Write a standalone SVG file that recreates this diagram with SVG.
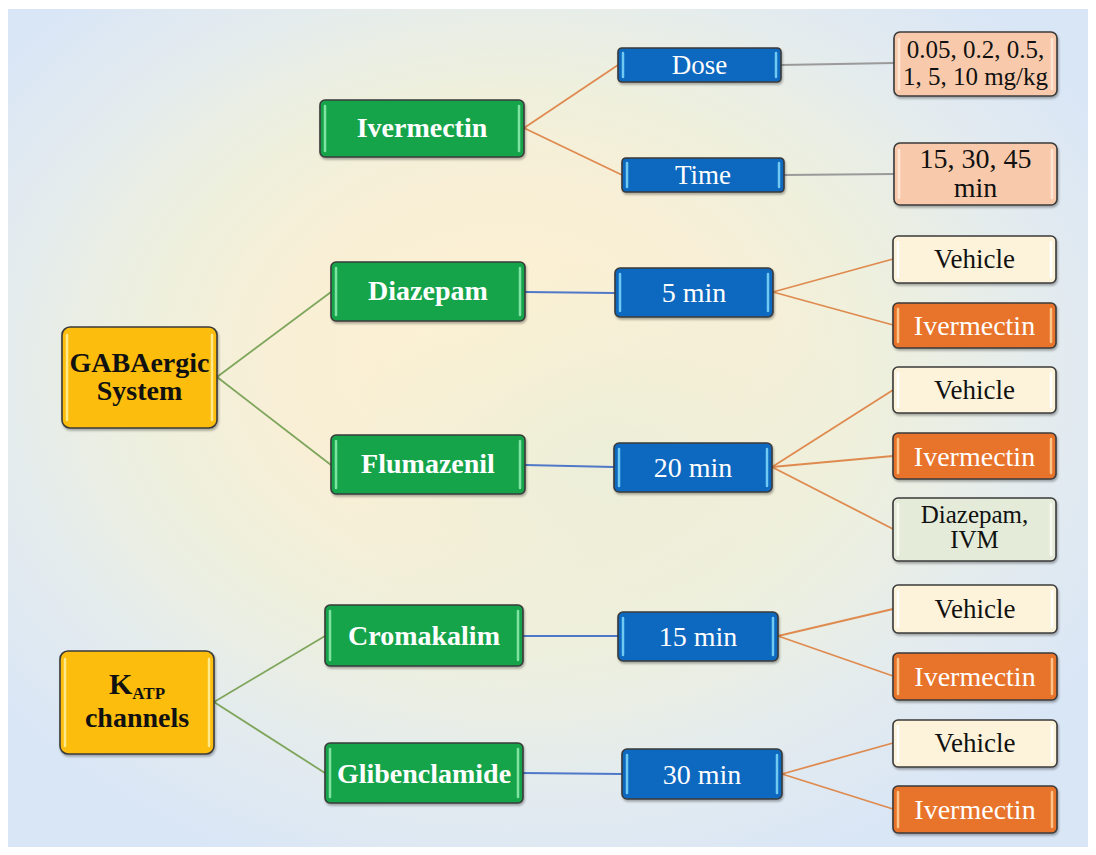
<svg xmlns="http://www.w3.org/2000/svg" width="1096" height="855" viewBox="0 0 1096 855">
<defs>
<radialGradient id="bg" cx="0.48" cy="0.45" r="0.62" fx="0.45" fy="0.4">
<stop offset="0" stop-color="#fdf1d2"/>
<stop offset="0.35" stop-color="#f8efd6"/>
<stop offset="0.55" stop-color="#eef0dd"/>
<stop offset="0.8" stop-color="#e3ebef"/>
<stop offset="1" stop-color="#d9e6f6"/>
</radialGradient>
<radialGradient id="bg2" cx="0.55" cy="0.55" r="0.25">
<stop offset="0" stop-color="#e6eedb" stop-opacity="0.7"/>
<stop offset="1" stop-color="#e6eedb" stop-opacity="0"/>
</radialGradient>
<filter id="sh" x="-10%" y="-10%" width="130%" height="140%">
<feDropShadow dx="1" dy="2" stdDeviation="1.2" flood-color="#000" flood-opacity="0.3"/>
</filter>
</defs>
<style>
.box{stroke:#3a3a3a;stroke-width:1.6;filter:url(#sh)}
.g{fill:#13a44b}.b{fill:#0c67bf}.y{fill:#fcbd0f}.o{fill:#e8732b}.c{fill:#fdf3da}.p{fill:#f8caab}.lg{fill:#e4ecd9}
.bv{stroke-width:2.5;stroke-linecap:round;fill:none}
.bg{stroke:#7fe3a2}.bb{stroke:#6fc9f2}.by{stroke:#feea8a}.bo{stroke:#fbc488}.bc{stroke:#ffffff}.bp{stroke:#fde6d6}.blg{stroke:#f6faf0}
.tw{font-family:'Liberation Serif','Times New Roman',serif;fill:#ffffff;text-anchor:middle}
.tk{font-family:'Liberation Serif','Times New Roman',serif;fill:#111111;text-anchor:middle}
.bold{font-weight:bold;font-size:28px}
.reg{font-size:27px}
.sm{font-size:25px}
.cg{stroke:#7fa65c;stroke-width:1.8;fill:none}
.co{stroke:#df8a4f;stroke-width:1.8;fill:none}
.cb{stroke:#4f78c8;stroke-width:1.8;fill:none}
.cy{stroke:#9a9a9a;stroke-width:1.8;fill:none}
</style>
<rect x="0" y="0" width="1096" height="855" fill="#ffffff"/>
<rect x="8" y="9" width="1080" height="838" fill="url(#bg)"/>
<rect x="8" y="9" width="1080" height="838" fill="url(#bg2)"/>

<g id="connectors">
<line class="cg" x1="217" y1="377" x2="331" y2="292"/>
<line class="cg" x1="217" y1="377" x2="331" y2="465"/>
<line class="cg" x1="214" y1="702" x2="325" y2="636"/>
<line class="cg" x1="214" y1="702" x2="325" y2="773"/>
<line class="co" x1="524" y1="128" x2="618" y2="65"/>
<line class="co" x1="524" y1="128" x2="622" y2="175"/>
<line class="cy" x1="781" y1="65" x2="894" y2="63"/>
<line class="cy" x1="784" y1="175" x2="894" y2="174"/>
<line class="cb" x1="525" y1="292" x2="615" y2="293"/>
<line class="cb" x1="525" y1="465" x2="614" y2="467"/>
<line class="cb" x1="523" y1="636" x2="618" y2="636"/>
<line class="cb" x1="523" y1="773" x2="622" y2="774"/>
<line class="co" x1="773" y1="292" x2="893" y2="259"/>
<line class="co" x1="773" y1="292" x2="893" y2="325"/>
<line class="co" x1="772" y1="467" x2="893" y2="390"/>
<line class="co" x1="772" y1="467" x2="893" y2="456"/>
<line class="co" x1="772" y1="467" x2="893" y2="529"/>
<line class="co" x1="778" y1="636" x2="893" y2="609"/>
<line class="co" x1="778" y1="636" x2="893" y2="676"/>
<line class="co" x1="782" y1="774" x2="893" y2="743"/>
<line class="co" x1="782" y1="774" x2="893" y2="809"/>
</g>

<g id="gaba">
<rect class="box y" x="62" y="327" width="155" height="101" rx="8"/>
<path class="bv by" d="M67 335V420M212 335V420"/>
<text class="tk bold" x="139.5" y="372">GABAergic</text>
<text class="tk bold" x="139.5" y="400">System</text>
</g>
<g id="katp">
<rect class="box y" x="60" y="651" width="154" height="103" rx="8"/>
<path class="bv by" d="M65 659V746M209 659V746"/>
<text class="tk bold" x="137" y="694"><tspan font-size="30px">K</tspan><tspan font-size="17px" dy="5">ATP</tspan></text>
<text class="tk bold" x="137" y="727">channels</text>
</g>

<g id="ivermectin">
<rect class="box g" x="320" y="100" width="204" height="57" rx="5"/>
<path class="bv bg" d="M325 106V151M519 106V151"/>
<text class="tw bold" x="422" y="137">Ivermectin</text>
</g>
<g id="dose">
<rect class="box b" x="618" y="48" width="163" height="34" rx="4"/>
<path class="bv bb" d="M623 53V77M776 53V77"/>
<text class="tw reg" x="699.5" y="74">Dose</text>
</g>
<g id="time">
<rect class="box b" x="622" y="158" width="162" height="34" rx="4"/>
<path class="bv bb" d="M627 163V187M779 163V187"/>
<text class="tw reg" x="703" y="184">Time</text>
</g>
<g id="dosevals">
<rect class="box p" x="894" y="32" width="163" height="64" rx="6"/>
<path class="bv bp" d="M899 39V89M1052 39V89"/>
<text class="tk sm" x="975.5" y="58">0.05, 0.2, 0.5,</text>
<text class="tk sm" x="975.5" y="85">1, 5, 10 mg/kg</text>
</g>
<g id="timevals">
<rect class="box p" x="894" y="143" width="163" height="62" rx="6"/>
<path class="bv bp" d="M899 150V198M1052 150V198"/>
<text class="tk" font-size="28px" x="975.5" y="168">15, 30, 45</text>
<text class="tk" font-size="28px" x="975.5" y="197">min</text>
</g>

<g id="diazepam">
<rect class="box g" x="331" y="262" width="194" height="59" rx="5"/>
<path class="bv bg" d="M336 268V315M520 268V315"/>
<text class="tw bold" x="428" y="300">Diazepam</text>
</g>
<g id="flumazenil">
<rect class="box g" x="331" y="435" width="194" height="59" rx="5"/>
<path class="bv bg" d="M336 441V488M520 441V488"/>
<text class="tw bold" x="428" y="473">Flumazenil</text>
</g>
<g id="cromakalim">
<rect class="box g" x="325" y="605" width="198" height="61" rx="5"/>
<path class="bv bg" d="M330 611V660M518 611V660"/>
<text class="tw bold" x="424" y="645">Cromakalim</text>
</g>
<g id="glibenclamide">
<rect class="box g" x="325" y="743" width="198" height="60" rx="5"/>
<path class="bv bg" d="M330 749V797M518 749V797"/>
<text class="tw bold" x="424" y="783">Glibenclamide</text>
</g>

<g id="t5">
<rect class="box b" x="615" y="268" width="158" height="49" rx="5"/>
<path class="bv bb" d="M620 274V311M768 274V311"/>
<text class="tw" font-size="28px" x="694" y="302">5 min</text>
</g>
<g id="t20">
<rect class="box b" x="614" y="443" width="158" height="49" rx="5"/>
<path class="bv bb" d="M619 449V486M767 449V486"/>
<text class="tw" font-size="28px" x="693" y="477">20 min</text>
</g>
<g id="t15">
<rect class="box b" x="618" y="612" width="160" height="49" rx="5"/>
<path class="bv bb" d="M623 618V655M773 618V655"/>
<text class="tw" font-size="28px" x="698" y="646">15 min</text>
</g>
<g id="t30">
<rect class="box b" x="622" y="749" width="160" height="50" rx="5"/>
<path class="bv bb" d="M627 755V793M777 755V793"/>
<text class="tw" font-size="28px" x="702" y="784">30 min</text>
</g>

<g id="veh1">
<rect class="box c" x="893" y="236" width="163" height="47" rx="5"/>
<path class="bv bc" d="M898 242V277M1051 242V277"/>
<text class="tk reg" x="974.5" y="268">Vehicle</text>
</g>
<g id="ivm1">
<rect class="box o" x="893" y="303" width="163" height="45" rx="5"/>
<path class="bv bo" d="M898 309V342M1051 309V342"/>
<text class="tw" font-size="28px" x="974.5" y="335">Ivermectin</text>
</g>
<g id="veh2">
<rect class="box c" x="893" y="367" width="163" height="46" rx="5"/>
<path class="bv bc" d="M898 373V407M1051 373V407"/>
<text class="tk reg" x="974.5" y="399">Vehicle</text>
</g>
<g id="ivm2">
<rect class="box o" x="893" y="433" width="163" height="46" rx="5"/>
<path class="bv bo" d="M898 439V473M1051 439V473"/>
<text class="tw" font-size="28px" x="974.5" y="466">Ivermectin</text>
</g>
<g id="dzivm">
<rect class="box lg" x="893" y="498" width="163" height="63" rx="5"/>
<path class="bv blg" d="M898 504V555M1051 504V555"/>
<text class="tk sm" x="974.5" y="523">Diazepam,</text>
<text class="tk sm" x="974.5" y="548">IVM</text>
</g>
<g id="veh3">
<rect class="box c" x="893" y="585" width="164" height="48" rx="5"/>
<path class="bv bc" d="M898 591V627M1052 591V627"/>
<text class="tk reg" x="975" y="618">Vehicle</text>
</g>
<g id="ivm3">
<rect class="box o" x="893" y="653" width="164" height="47" rx="5"/>
<path class="bv bo" d="M898 659V694M1052 659V694"/>
<text class="tw" font-size="28px" x="975" y="686">Ivermectin</text>
</g>
<g id="veh4">
<rect class="box c" x="893" y="720" width="164" height="47" rx="5"/>
<path class="bv bc" d="M898 726V761M1052 726V761"/>
<text class="tk reg" x="975" y="752">Vehicle</text>
</g>
<g id="ivm4">
<rect class="box o" x="893" y="786" width="164" height="47" rx="5"/>
<path class="bv bo" d="M898 792V827M1052 792V827"/>
<text class="tw" font-size="28px" x="975" y="819">Ivermectin</text>
</g>
</svg>
